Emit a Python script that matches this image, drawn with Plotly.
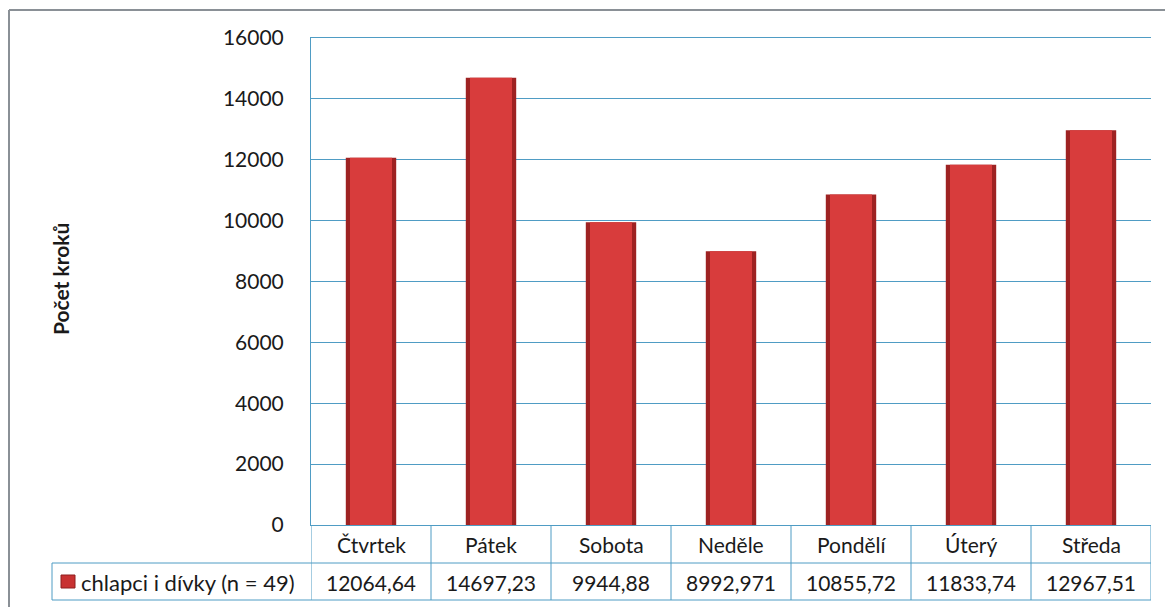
import plotly.graph_objects as go

categories = ["Čtvrtek", "Pátek", "Sobota", "Neděle", "Pondělí", "Úterý", "Středa"]
values = [12064.64, 14697.23, 9944.88, 8992.971, 10855.72, 11833.74, 12967.51]
value_labels = ["12064,64", "14697,23", "9944,88", "8992,971", "10855,72", "11833,74", "12967,51"]
series_name = "chlapci i dívky (n = 49)"
y_title = "Počet kroků"
y_ticks = [0, 2000, 4000, 6000, 8000, 10000, 12000, 14000, 16000]

W, H = 1165, 607
ML, MR, MT, MB = 311, 14, 38, 82
PW, PH = W - ML - MR, H - MT - MB

FONT = "Lato"
GRID = "#4f9cc4"
TXT = "#1a1a1a"
FS = 21


def px_x(p):
    return (p - ML) / PW


def px_y(p):
    return (H - MB - p) / PH


fig = go.Figure()
fig.add_trace(go.Bar(x=categories, y=values, width=0.42,
                     marker=dict(color="#9e2222", line=dict(width=0)),
                     hoverinfo="skip", showlegend=False))
fig.add_trace(go.Bar(x=categories, y=values, width=0.35,
                     marker=dict(color="#d83c3c", line=dict(width=0)),
                     hoverinfo="skip", showlegend=False))

shapes = []
n = len(categories)
for i in range(n + 1):
    shapes.append(dict(type="line", xref="x", yref="paper", x0=i - 0.5, x1=i - 0.5,
                       y0=0, y1=px_y(600), line=dict(color=GRID, width=1)))
shapes.append(dict(type="line", xref="paper", yref="paper", x0=px_x(52), x1=1,
                   y0=px_y(563), y1=px_y(563), line=dict(color=GRID, width=1)))
shapes.append(dict(type="line", xref="paper", yref="paper", x0=px_x(52), x1=1,
                   y0=px_y(600), y1=px_y(600), line=dict(color=GRID, width=1)))
shapes.append(dict(type="line", xref="paper", yref="paper", x0=px_x(52), x1=px_x(52),
                   y0=px_y(563), y1=px_y(600), line=dict(color=GRID, width=1)))
shapes.append(dict(type="rect", xref="paper", yref="paper", x0=px_x(61), x1=px_x(75),
                   y0=px_y(588), y1=px_y(575), fillcolor="#c83232",
                   line=dict(color="#8e1e1e", width=1)))
shapes.append(dict(type="line", xref="paper", yref="paper", x0=px_x(9), x1=px_x(9),
                   y0=px_y(10), y1=px_y(608), line=dict(color="#8a9096", width=2)))
shapes.append(dict(type="line", xref="paper", yref="paper", x0=px_x(9), x1=px_x(1166),
                   y0=px_y(10), y1=px_y(10), line=dict(color="#8a9096", width=2)))

annotations = []
for c, lab in zip(categories, value_labels):
    annotations.append(dict(x=c, xref="x", y=px_y(544), yref="paper", text=c,
                            showarrow=False, xanchor="center", yanchor="middle",
                            font=dict(family=FONT, size=FS, color=TXT)))
    annotations.append(dict(x=c, xref="x", y=px_y(582), yref="paper", text=lab,
                            showarrow=False, xanchor="center", yanchor="middle",
                            font=dict(family=FONT, size=FS, color=TXT)))
annotations.append(dict(x=px_x(79), xref="paper", y=px_y(582), yref="paper", text=series_name,
                        showarrow=False, xanchor="left", yanchor="middle",
                        font=dict(family=FONT, size=22, color=TXT)))
annotations.append(dict(x=px_x(60), xref="paper", y=px_y(279), yref="paper", text="<b>" + y_title + "</b>",
                        showarrow=False, xanchor="center", yanchor="middle", textangle=-90,
                        font=dict(family=FONT, size=21, color=TXT)))

fig.update_layout(
    width=W, height=H, autosize=False,
    margin=dict(l=ML, r=MR, t=MT, b=MB),
    paper_bgcolor="white", plot_bgcolor="white",
    barmode="overlay", bargap=0.58,
    showlegend=False,
    shapes=shapes, annotations=annotations,
    xaxis=dict(type="category", categoryorder="array", categoryarray=categories,
               showticklabels=False, showgrid=False, zeroline=False,
               showline=True, mirror=True, linecolor=GRID, linewidth=1,
               range=[-0.5, n - 0.5], fixedrange=True),
    yaxis=dict(range=[0, 16000], tickvals=y_ticks, ticktext=[str(t) for t in y_ticks],
               showgrid=True, gridcolor=GRID, gridwidth=1, zeroline=False,
               showline=True, linecolor=GRID, linewidth=1, ticks="",
               ticklabelstandoff=22,
               tickfont=dict(family=FONT, size=FS, color=TXT), fixedrange=True),
)

fig.write_html("out.html", config={"displayModeBar": False})
